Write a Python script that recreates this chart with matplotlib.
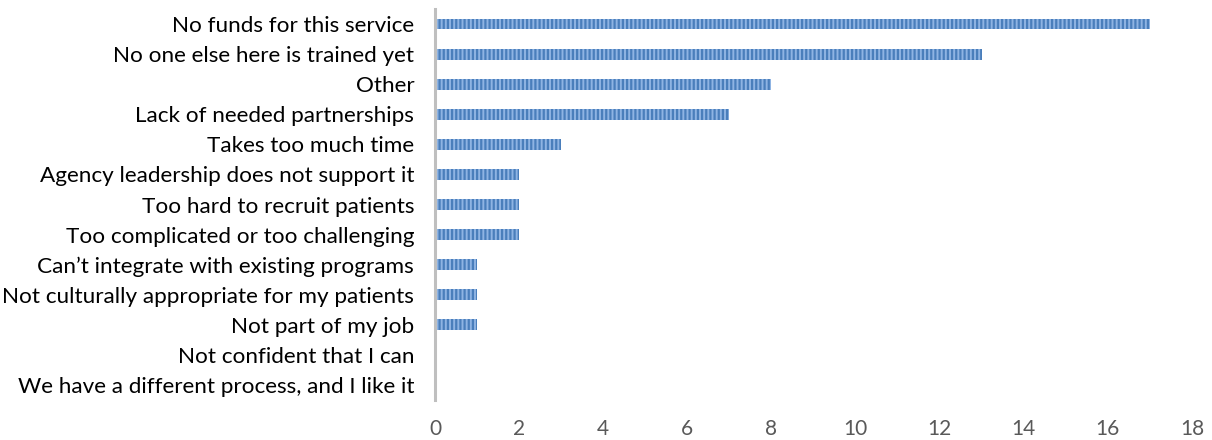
import matplotlib
matplotlib.use("Agg")
import matplotlib.pyplot as plt

plt.rcParams['font.family'] = ['Lato', 'DejaVu Sans']
plt.rcParams['hatch.linewidth'] = 1.6

reasons = [
    "No funds for this service",
    "No one else here is trained yet",
    "Other",
    "Lack of needed partnerships",
    "Takes too much time",
    "Agency leadership does not support it",
    "Too hard to recruit patients",
    "Too complicated or too challenging",
    "Can\u2019t integrate with existing programs",
    "Not culturally appropriate for my patients",
    "Not part of my job",
    "Not confident that I can",
    "We have a different process, and I like it",
]
counts = [17, 13, 8, 7, 3, 2, 2, 2, 1, 1, 1, 0, 0]
xticks = [0, 2, 4, 6, 8, 10, 12, 14, 16, 18]

fig = plt.figure(figsize=(12.12, 4.4), dpi=100)
ax = fig.add_axes([435 / 1212, 1 - 400 / 440, (1192 - 435) / 1212, (400 - 9) / 440])

pos = list(range(len(reasons)))
ax.barh(pos, counts, height=0.36, color='#8fb4e3', edgecolor='#4a7ebb',
        hatch='||||', linewidth=0)
ax.set_yticks(pos)
ax.set_yticklabels(reasons, fontsize=16.2, color='#000000')
ax.set_ylim(len(reasons) - 0.5, -0.5)
ax.set_xlim(0, 18)
ax.set_xticks(xticks)
ax.set_xticklabels([str(t) for t in xticks], fontsize=15, color='#595959')
ax.tick_params(axis='both', length=0)
ax.tick_params(axis='x', pad=14)
ax.tick_params(axis='y', pad=15)
for side in ['top', 'right', 'bottom']:
    ax.spines[side].set_visible(False)
ax.spines['left'].set_color('#bfbfbf')
ax.spines['left'].set_linewidth(2.2)

fig.savefig("out.png", dpi=100)
